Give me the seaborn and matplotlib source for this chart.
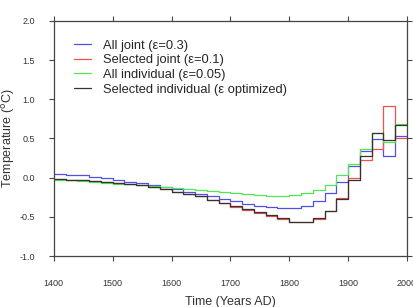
import numpy as np
import pandas as pd
import matplotlib
matplotlib.use("Agg")
import matplotlib.pyplot as plt
import seaborn as sns

years = list(range(1400, 2000, 20))

all_joint = [0.05, 0.04, 0.03, 0.01, -0.01, -0.03, -0.05, -0.07, -0.10, -0.12,
             -0.15, -0.18, -0.21, -0.24, -0.27, -0.30, -0.33, -0.36, -0.38, -0.39,
             -0.39, -0.36, -0.30, -0.20, -0.05, 0.15, 0.34, 0.49, 0.28, 0.53]
selected_joint = [-0.02, -0.03, -0.035, -0.045, -0.055, -0.07, -0.085, -0.10, -0.12, -0.15,
                  -0.18, -0.21, -0.24, -0.285, -0.325, -0.37, -0.41, -0.45, -0.49, -0.53,
                  -0.57, -0.57, -0.53, -0.43, -0.26, 0.00, 0.23, 0.36, 0.91, 0.50]
all_individual = [-0.03, -0.035, -0.045, -0.055, -0.065, -0.075, -0.085, -0.095, -0.105, -0.12,
                  -0.13, -0.145, -0.16, -0.17, -0.185, -0.20, -0.21, -0.22, -0.23, -0.235,
                  -0.225, -0.20, -0.16, -0.09, 0.03, 0.18, 0.37, 0.57, 0.46, 0.69]
selected_individual = [-0.02, -0.03, -0.035, -0.045, -0.055, -0.07, -0.085, -0.10, -0.12, -0.15,
                       -0.18, -0.21, -0.24, -0.28, -0.32, -0.36, -0.40, -0.44, -0.48, -0.52,
                       -0.56, -0.56, -0.52, -0.42, -0.27, -0.03, 0.28, 0.565, 0.48, 0.67]

labels = ["All joint (\u03b5=0.3)", "Selected joint (\u03b5=0.1)",
          "All individual (\u03b5=0.05)", "Selected individual (\u03b5 optimized)"]
colors = ["#5050e8", "#f05050", "#50e850", "#333333"]
series = [all_joint, selected_joint, all_individual, selected_individual]

sns.set_theme(style="white")
plt.rcParams['font.family'] = ['Liberation Sans', 'DejaVu Sans']

fig = plt.figure(figsize=(4.14, 3.07), dpi=100)
ax = fig.add_axes([0.130, 0.166, 0.853, 0.766])

edges = years + [2000]
for lab, col, vals in zip(labels, colors, series):
    df = pd.DataFrame({"year": edges, "temp": list(vals) + [vals[-1]]})
    sns.lineplot(data=df, x="year", y="temp", ax=ax, color=col, lw=0.9,
                 drawstyle="steps-post", label=lab)

ax.set_xlim(1400, 2000)
ax.set_ylim(-1.0, 2.0)
ax.set_xticks(range(1400, 2001, 100))
ax.set_yticks(np.arange(-1.0, 2.01, 0.5))
ax.set_yticklabels([f"{v:.1f}" for v in np.arange(-1.0, 2.01, 0.5)])
ax.tick_params(axis="both", which="both", direction="out", length=3.5, width=0.8,
               color="#444444", labelsize=6.5, labelcolor="#333333",
               top=True, right=True, bottom=True, left=True)
ax.tick_params(axis="x", pad=13)
ax.tick_params(axis="y", pad=10)
for s in ax.spines.values():
    s.set_color("#444444")
    s.set_linewidth(0.9)

ax.set_xlabel("Time (Years AD)", fontsize=9, color="#333333", labelpad=6)
ax.set_ylabel("Temperature ($^{\\mathrm{o}}$C)", fontsize=9, color="#333333", labelpad=2)

leg = ax.legend(loc="upper left", frameon=False, fontsize=9.3, handlelength=1.35,
                handletextpad=0.9, labelspacing=0.2, borderaxespad=0.6,
                bbox_to_anchor=(0.02, 0.975))

fig.savefig("out.png", dpi=100)
